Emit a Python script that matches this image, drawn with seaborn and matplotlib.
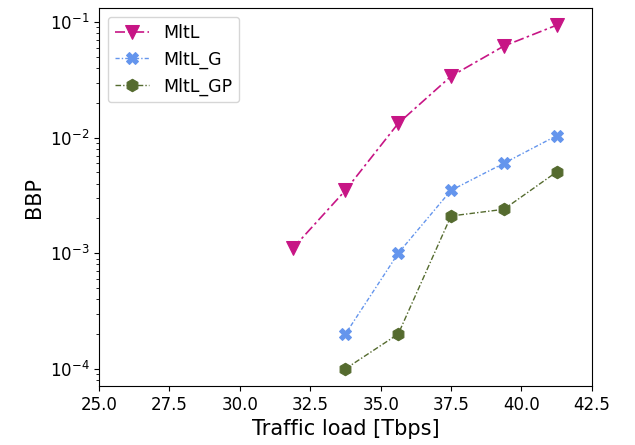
import matplotlib
matplotlib.use("Agg")
import matplotlib.pyplot as plt
import seaborn as sns
import numpy as np

x_mltl = [31.875, 33.75, 35.625, 37.5, 39.375, 41.25]
y_mltl = [1.1e-3, 3.5e-3, 1.33e-2, 3.4e-2, 6.2e-2, 9.4e-2]

x_g = [33.75, 35.625, 37.5, 39.375, 41.25]
y_g = [2.0e-4, 1.0e-3, 3.5e-3, 6.0e-3, 1.04e-2]

x_gp = [33.75, 35.625, 37.5, 39.375, 41.25]
y_gp = [1.0e-4, 2.0e-4, 2.1e-3, 2.4e-3, 5.05e-3]

x_ticks = [25.0, 27.5, 30.0, 32.5, 35.0, 37.5, 40.0, 42.5]

fig = plt.figure(figsize=(6.35, 4.45), dpi=100)
ax = fig.add_axes([0.156, 0.1326, 0.776, 0.8494])

sns.lineplot(x=x_mltl, y=y_mltl, ax=ax, color="#C71585", marker="v", markersize=10,
             linestyle=(0, (6, 2, 1.5, 2)), linewidth=1.2, label="MltL", markeredgecolor="#C71585")
sns.lineplot(x=x_g, y=y_g, ax=ax, color="#6495ED", marker="X", markersize=9,
             linestyle=(0, (3, 1.5, 1, 1.5)), linewidth=1.0, label="MltL_G", markeredgecolor="#6495ED")
sns.lineplot(x=x_gp, y=y_gp, ax=ax, color="#556B2F", marker="h", markersize=9,
             linestyle=(0, (4, 1.5, 1, 1.5)), linewidth=1.0, label="MltL_GP", markeredgecolor="#556B2F")

ax.set_yscale("log")
ax.set_xlim(25, 42.5)
ax.set_xticks(x_ticks)
ax.set_xticklabels([f"{t:.1f}" for t in x_ticks])
ax.set_xlabel("Traffic load [Tbps]", fontsize=15)
ax.set_ylabel("BBP", fontsize=15)
ax.tick_params(labelsize=12)
ax.legend(loc="upper left", fontsize=12.5)

fig.savefig("out.png", dpi=100)
